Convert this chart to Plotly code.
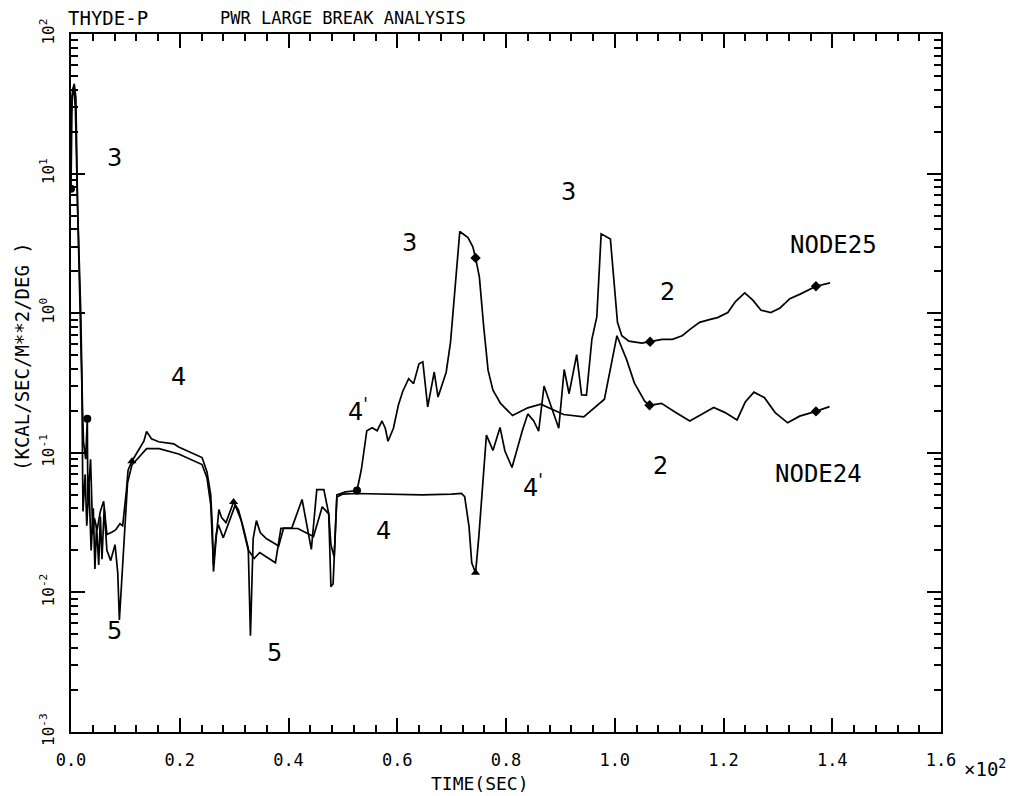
import numpy as np
import plotly.graph_objects as go

# ---------------- data (time in units of 10^2 s, heat transfer coefficient) --------------
node24_t = [0.000, 0.003, 0.006, 0.009, 0.012, 0.015, 0.018, 0.021, 0.023, 0.027,
            0.030, 0.031, 0.036, 0.040, 0.043, 0.048, 0.054, 0.060, 0.066, 0.075,
            0.082, 0.090, 0.095, 0.102, 0.105, 0.112, 0.124, 0.134, 0.139, 0.148,
            0.161, 0.189, 0.198, 0.241, 0.250, 0.257, 0.260, 0.262, 0.267, 0.272,
            0.277, 0.285, 0.299, 0.308, 0.317, 0.326, 0.330, 0.335, 0.341, 0.348,
            0.359, 0.382, 0.391, 0.406, 0.425, 0.442, 0.452, 0.465, 0.474, 0.478,
            0.482, 0.489, 0.505, 0.526, 0.534, 0.544, 0.554, 0.563, 0.572, 0.578,
            0.583, 0.593, 0.602, 0.610, 0.621, 0.630, 0.640, 0.647, 0.656, 0.668,
            0.675, 0.690, 0.698, 0.715, 0.730, 0.739, 0.744, 0.751, 0.759, 0.767,
            0.776, 0.790, 0.812, 0.840, 0.864, 0.906, 0.943, 0.969, 0.981, 1.004,
            1.022, 1.036, 1.055, 1.064, 1.086, 1.110, 1.138, 1.160, 1.182, 1.203,
            1.225, 1.240, 1.256, 1.275, 1.295, 1.318, 1.340, 1.370, 1.395]
node24_h = [25, 40, 44, 35, 6.0, 2.5, 1.0, 0.22, 0.12, 0.09,
            0.175, 0.045, 0.090, 0.026, 0.034, 0.028, 0.038, 0.045, 0.026, 0.027,
            0.028, 0.031, 0.030, 0.054, 0.075, 0.087, 0.103, 0.121, 0.142, 0.126,
            0.120, 0.116, 0.110, 0.0925, 0.0733, 0.050, 0.029, 0.0141, 0.0247, 0.0392,
            0.0343, 0.0316, 0.0444, 0.0389, 0.0289, 0.0207, 0.0049, 0.0243, 0.0327, 0.0268,
            0.0243, 0.0215, 0.0289, 0.0289, 0.0463, 0.0203, 0.0545, 0.0545, 0.0365, 0.011,
            0.0115, 0.050, 0.0525, 0.0537, 0.0759, 0.144, 0.151, 0.144, 0.169, 0.150,
            0.121, 0.150, 0.219, 0.275, 0.340, 0.313, 0.434, 0.449, 0.213, 0.379,
            0.251, 0.378, 0.62, 3.85, 3.48, 2.99, 2.49, 1.82, 0.80, 0.391,
            0.281, 0.226, 0.185, 0.210, 0.223, 0.188, 0.181, 0.219, 0.242, 0.69,
            0.463, 0.317, 0.234, 0.219, 0.226, 0.197, 0.169, 0.189, 0.211, 0.194,
            0.172, 0.231, 0.272, 0.249, 0.194, 0.164, 0.183, 0.198, 0.214]

node25_t = [0.000, 0.002, 0.005, 0.008, 0.011, 0.014, 0.017, 0.020, 0.022, 0.026,
            0.029, 0.033, 0.037, 0.041, 0.044, 0.047, 0.051, 0.054, 0.057, 0.061,
            0.066, 0.073, 0.081, 0.086, 0.089, 0.093, 0.099, 0.104, 0.112, 0.124,
            0.139, 0.162, 0.198, 0.241, 0.250, 0.257, 0.262, 0.267, 0.271, 0.280,
            0.295, 0.302, 0.313, 0.326, 0.337, 0.347, 0.376, 0.386, 0.417, 0.446,
            0.462, 0.474, 0.478, 0.484, 0.489, 0.500, 0.524, 0.585, 0.646, 0.700,
            0.718, 0.724, 0.732, 0.737, 0.744, 0.750, 0.757, 0.764, 0.776, 0.789,
            0.798, 0.811, 0.830, 0.840, 0.851, 0.860, 0.870, 0.897, 0.907, 0.916,
            0.930, 0.939, 0.948, 0.958, 0.967, 0.975, 0.992, 1.005, 1.013, 1.026,
            1.050, 1.065, 1.087, 1.106, 1.124, 1.139, 1.156, 1.174, 1.189, 1.208,
            1.222, 1.239, 1.254, 1.269, 1.287, 1.304, 1.322, 1.341, 1.359, 1.370,
            1.396]
node25_h = [7.8, 36, 40, 30, 9.0, 3.0, 1.2, 0.30, 0.038, 0.07,
            0.030, 0.060, 0.020, 0.040, 0.0147, 0.030, 0.0157, 0.035, 0.0173, 0.040,
            0.020, 0.0169, 0.022, 0.0138, 0.00635, 0.0123, 0.030, 0.061, 0.0817, 0.0914,
            0.107, 0.107, 0.098, 0.0824, 0.0664, 0.0426, 0.0158, 0.0259, 0.0305, 0.0246,
            0.0358, 0.0422, 0.0328, 0.0201, 0.0175, 0.0193, 0.0163, 0.0288, 0.0287, 0.0251,
            0.041, 0.0365, 0.022, 0.0179, 0.0482, 0.0506, 0.0511, 0.0505, 0.0500, 0.0505,
            0.0511, 0.0485, 0.0296, 0.0163, 0.0138, 0.025, 0.0608, 0.134, 0.104, 0.152,
            0.103, 0.0785, 0.144, 0.190, 0.169, 0.143, 0.301, 0.150, 0.395, 0.265,
            0.505, 0.260, 0.259, 0.653, 0.94, 3.7, 3.4, 0.86, 0.69, 0.63,
            0.61, 0.625, 0.65, 0.65, 0.69, 0.77, 0.86, 0.90, 0.93, 1.01,
            1.21, 1.40, 1.24, 1.05, 1.01, 1.09, 1.27, 1.37, 1.48, 1.56,
            1.65]

# times at which the plotter drew symbols on each curve
node24_mark_t = [0.030, 0.112, 0.299, 0.526, 0.744, 1.064, 1.370]
node24_mark_sym = ["circle", "triangle-up", "triangle-up", "circle", "diamond", "diamond", "diamond"]
node25_mark_t = [0.000, 0.744, 1.065, 1.370]
node25_mark_sym = ["circle", "triangle-up", "diamond", "diamond"]

x_tick_vals = [0.0, 0.2, 0.4, 0.6, 0.8, 1.0, 1.2, 1.4, 1.6]
x_tick_text = ["0.0", "0.2", "0.4", "0.6", "0.8", "1.0", "1.2", "1.4", "1.6"]
y_exponents = [-3, -2, -1, 0, 1, 2]

# regime labels written on the chart (time, value)
label_text = ["3", "4", "5", "5", "3", "4<sup>'</sup>", "4", "3", "4<sup>'</sup>", "2", "2"]
label_t = [0.080, 0.197, 0.080, 0.375, 0.623, 0.528, 0.575, 0.915, 0.849, 1.097, 1.084]
label_v = [13.0, 0.35, 0.0053, 0.0037, 3.16, 0.204, 0.0275, 7.4, 0.058, 1.43, 0.080]
node_label_text = ["NODE25", "NODE24"]
node_label_t = [1.403, 1.375]
node_label_v = [3.09, 0.071]

# ---------------- figure --------------------------------------------------------------
W, H = 1018, 796
ML, MR, MT, MB = 71, 77, 34, 64
PW, PH = W - ML - MR, H - MT - MB
FONT = "DejaVu Sans Mono"


def paper(px, py):
    return (px - ML) / PW, (H - MB - py) / PH


fig = go.Figure()

for t, h, mt, ms in [(node24_t, node24_h, node24_mark_t, node24_mark_sym),
                     (node25_t, node25_h, node25_mark_t, node25_mark_sym)]:
    fig.add_trace(go.Scatter(x=t, y=h, mode="lines",
                             line=dict(color="black", width=1.7),
                             showlegend=False, hoverinfo="skip"))
    ta = np.array(t)
    idx = [int(np.argmin(np.abs(ta - m))) for m in mt]
    fig.add_trace(go.Scatter(x=[t[i] for i in idx], y=[h[i] for i in idx],
                             mode="markers",
                             marker=dict(symbol=ms, size=8, color="black"),
                             showlegend=False, hoverinfo="skip"))

minor_y = [m * 10.0 ** e for e in y_exponents[:-1] for m in range(2, 10)]

fig.update_xaxes(range=[0, 1.6], tickmode="array", tickvals=x_tick_vals, ticktext=x_tick_text,
                 ticks="inside", ticklen=14, tickwidth=1.5, tickcolor="black",
                 ticklabelstandoff=12,
                 showline=True, linecolor="black", linewidth=2, mirror="ticks",
                 showgrid=False, zeroline=False,
                 tickfont=dict(family=FONT, size=17, color="black"),
                 minor=dict(ticks="inside", ticklen=7, tickwidth=1.5, tickcolor="black",
                            tickmode="linear", tick0=0, dtick=0.04, showgrid=False))
fig.update_yaxes(type="log", range=[-3, 2], tickmode="array",
                 tickvals=[10.0 ** e for e in y_exponents],
                 ticktext=["10<sup>%d</sup>" % e for e in y_exponents],
                 tickangle=-90, ticklabelstandoff=9,
                 ticks="inside", ticklen=14, tickwidth=1.5, tickcolor="black",
                 showline=True, linecolor="black", linewidth=2, mirror="ticks",
                 showgrid=False, zeroline=False,
                 tickfont=dict(family=FONT, size=16, color="black"),
                 minor=dict(ticks="inside", ticklen=7, tickwidth=1.5, tickcolor="black",
                            tickmode="array", tickvals=minor_y, showgrid=False))


def note(text, px, py, size, anchor="center", angle=0):
    x, y = paper(px, py)
    return dict(text=text, x=x, y=y, xref="paper", yref="paper", xanchor=anchor,
                yanchor="middle", textangle=angle, showarrow=False,
                font=dict(family=FONT, size=size, color="black"))


ann = [
    note("THYDE-P", 66, 18, 19, anchor="left"),
    note("PWR LARGE BREAK ANALYSIS", 218, 18, 17, anchor="left"),
    note("(KCAL/SEC/M**2/DEG )", 22, 357, 19, angle=-90),
    note("TIME(SEC)", 480, 783, 18),
    note("×10<sup>2</sup>", 985, 768, 19),
]

for txt, t, v in zip(label_text, label_t, label_v):
    ann.append(dict(text=txt, x=t, y=float(np.log10(v)), xref="x", yref="y", showarrow=False,
                    xanchor="center", yanchor="middle",
                    font=dict(family="DejaVu Sans", size=24, color="black")))
for txt, t, v in zip(node_label_text, node_label_t, node_label_v):
    ann.append(dict(text=txt, x=t, y=float(np.log10(v)), xref="x", yref="y", showarrow=False,
                    xanchor="center", yanchor="middle",
                    font=dict(family=FONT, size=24, color="black")))

fig.update_layout(width=W, height=H, margin=dict(l=ML, r=MR, t=MT, b=MB, pad=0),
                  paper_bgcolor="white", plot_bgcolor="white", annotations=ann,
                  showlegend=False)

fig.write_html("out.html")
